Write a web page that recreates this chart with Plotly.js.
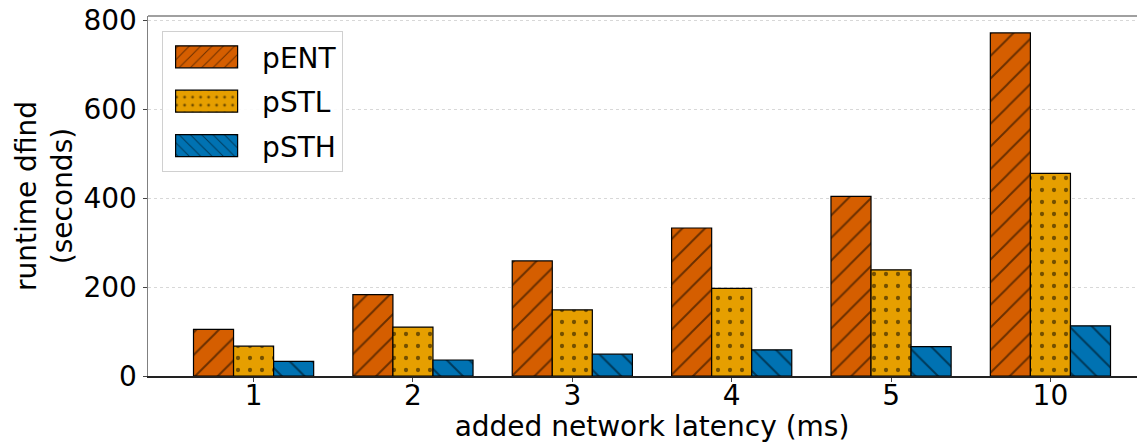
<!DOCTYPE html>
<html>
<head>
<meta charset="utf-8">
<script src="https://cdn.plot.ly/plotly-3.0.1.min.js"></script>
<style>html,body{margin:0;padding:0;overflow:hidden;background:#fff}</style>
</head>
<body>
<div id="chart" style="width:1156px;height:443px"></div>
<script>
const categories = ["1", "2", "3", "4", "5", "10"];
const pENT = [105, 183, 259, 333, 404, 772];
const pSTL = [67, 110, 149, 197, 239, 456];
const pSTH = [33, 36, 49, 59, 66, 113];
const yTicks = [0, 200, 400, 600, 800];

const FONT = "DejaVu Sans, sans-serif";

function barTrace(name, y, color, shape, size, solidity) {
  return {
    type: "bar", name: name, x: categories, y: y, legendgroup: name,
    marker: {
      color: color,
      line: {color: "#000", width: 1.2},
      pattern: {shape: shape, fgcolor: "#000", bgcolor: color, size: size, solidity: solidity, fillmode: "overlay"}
    }
  };
}

const data = [
  barTrace("pENT", pENT, "#D55E00", "/", 16, 0.12),
  barTrace("pSTL", pSTL, "#E69F00", ".", 12, 0.1),
  barTrace("pSTH", pSTH, "#0072B2", "\\", 16, 0.12)
];

const layout = {
  width: 1156, height: 443,
  margin: {l: 148, r: 0, t: 16, b: 67},
  paper_bgcolor: "#fff", plot_bgcolor: "#fff",
  font: {family: FONT, color: "#000", size: 28},
  barmode: "group", bargap: 0.246, bargroupgap: 0,
  showlegend: true,
  legend: {
    x: 0.014, y: 0.958, xanchor: "left", yanchor: "top",
    bgcolor: "rgba(255,255,255,0.9)", bordercolor: "#d0d0d0", borderwidth: 1,
    font: {family: FONT, size: 28, color: "#000"},
    itemwidth: 89, traceorder: "grouped", tracegroupgap: 5
  },
  xaxis: {
    type: "category", range: [-0.6625, 5.6625],
    showline: true, linecolor: "#222", linewidth: 1.5,
    ticks: "outside", ticklen: 4, tickcolor: "#444",
    tickfont: {family: FONT, size: 28}, ticklabelstandoff: -10,
    title: {text: "added network latency (ms)", font: {family: FONT, size: 28}, standoff: 0},
    showgrid: false, zeroline: false, automargin: false
  },
  yaxis: {
    range: [0, 810], tickvals: yTicks, ticktext: yTicks.map(String),
    showline: true, linecolor: "#808080", linewidth: 1.5,
    ticks: "outside", ticklen: 4, tickcolor: "#444",
    tickfont: {family: FONT, size: 28},
    title: {text: "runtime dfind<br>(seconds)", font: {family: FONT, size: 28}, standoff: 2},
    showgrid: true, gridcolor: "#d8d8d8", griddash: "dot", gridwidth: 1,
    zeroline: false, automargin: false
  },
  shapes: [
    {type: "line", xref: "paper", yref: "paper", x0: 0, x1: 1, y0: 1, y1: 1,
     line: {color: "#808080", width: 1.5}}
  ]
};

Plotly.newPlot("chart", data, layout, {displayModeBar: false, staticPlot: true}).then(function (gd) {
  // widen the legend swatches to look like matplotlib's legend patches
  gd.querySelectorAll(".legend .traces").forEach(function (tr) {
    tr.querySelectorAll(".legendpoints path").forEach(function (p) {
      const bb = p.getBBox();
      const cx = bb.x + bb.width / 2 - 6;
      const hw = 31, hh = 11;
      p.setAttribute("d", "M" + (cx + hw) + "," + hh + "H" + (cx - hw) + "V" + (-hh) + "H" + (cx + hw) + "Z");
      p.style.strokeWidth = "1.2px";
    });
  });
});
</script>
</body>
</html>
